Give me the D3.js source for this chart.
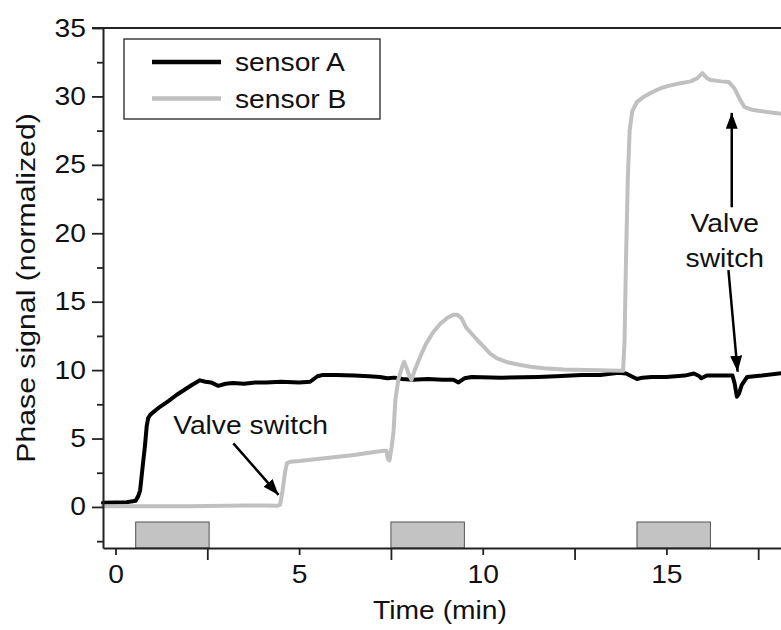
<!DOCTYPE html>
<html>
<head>
<meta charset="utf-8">
<script src="https://cdn.jsdelivr.net/npm/d3@7"></script>
<style>
  html, body { margin: 0; padding: 0; background: #fff; }
  svg { display: block; }
  text { font-family: "Liberation Sans", Arial, Helvetica, sans-serif; fill: #111; }
</style>
</head>
<body>
<svg id="chart" width="781" height="630"></svg>
<script>
// ---- data -------------------------------------------------------------
// sensor A: time (min) and normalized phase signal
const timeA = [-0.34, 0.0, 0.3, 0.55, 0.62, 0.67, 0.71, 0.75, 0.8, 0.85, 0.89, 0.95,
  1.2, 1.45, 1.67, 1.9, 2.1, 2.3, 2.45, 2.6, 2.8, 3.0, 3.2, 3.5, 3.8, 4.1, 4.5, 5.0,
  5.3, 5.5, 5.65, 6.0, 6.5, 6.9, 7.2, 7.4, 7.6, 7.8, 8.1, 8.5, 8.9, 9.2, 9.34, 9.5,
  9.7, 10.5, 11.5, 12.0, 12.7, 13.2, 13.7, 13.9, 14.05, 14.2, 14.35, 14.6, 15.0, 15.5,
  15.75, 15.9, 15.95, 16.1, 16.5, 16.8, 16.86, 16.92, 16.98, 17.05, 17.2, 17.6, 18.2];
const phaseA = [0.3, 0.32, 0.35, 0.45, 0.8, 1.2, 2.2, 3.2, 4.4, 5.9, 6.5, 6.75,
  7.3, 7.75, 8.2, 8.6, 8.95, 9.25, 9.15, 9.1, 8.85, 9.0, 9.05, 9.0, 9.1, 9.1, 9.15, 9.1,
  9.15, 9.55, 9.65, 9.65, 9.6, 9.55, 9.5, 9.4, 9.45, 9.35, 9.3, 9.35, 9.3, 9.3, 9.1, 9.4,
  9.5, 9.45, 9.5, 9.55, 9.65, 9.65, 9.8, 9.75, 9.55, 9.35, 9.45, 9.5, 9.5, 9.6,
  9.75, 9.55, 9.4, 9.6, 9.6, 9.6, 9.0, 8.05, 8.3, 8.9, 9.5, 9.6, 9.8];

// sensor B: time (min) and normalized phase signal
const timeB = [-0.34, 0.0, 2.0, 3.0, 3.5, 4.0, 4.4, 4.48, 4.55, 4.62, 4.67, 4.76,
  5.0, 5.5, 6.0, 6.5, 7.0, 7.3, 7.38, 7.42, 7.46, 7.52, 7.57, 7.62, 7.7, 7.8, 7.86,
  7.92, 8.0, 8.06, 8.15, 8.3, 8.45, 8.66, 8.85, 9.03, 9.2, 9.3, 9.42, 9.55, 9.65,
  9.85, 10.03, 10.2, 10.39, 10.7, 11.03, 11.3, 11.66, 12.2, 12.85, 13.4, 13.82,
  13.86, 13.9, 13.95, 14.0, 14.07, 14.2, 14.4, 14.57, 14.84, 15.03, 15.35, 15.66,
  15.85, 15.98, 16.1, 16.2, 16.5, 16.7, 16.85, 17.0, 17.12, 17.3, 17.5, 17.8, 18.2];
const phaseB = [0.05, 0.05, 0.05, 0.08, 0.1, 0.1, 0.08, 0.15, 1.2, 2.6, 3.2, 3.3,
  3.35, 3.5, 3.65, 3.8, 4.0, 4.1, 4.1, 3.5, 3.4, 4.4, 5.5, 7.8, 9.3, 10.2, 10.6,
  10.2, 9.6, 9.3, 10.0, 11.0, 11.9, 12.8, 13.4, 13.8, 14.05, 14.05, 13.8, 13.1, 12.8,
  12.2, 11.7, 11.2, 10.86, 10.55, 10.37, 10.25, 10.13, 10.05, 10.0, 9.98, 9.95,
  12.0, 18.0, 24.0, 27.5, 28.9, 29.6, 30.0, 30.25, 30.6, 30.75, 30.95, 31.1,
  31.35, 31.7, 31.35, 31.2, 31.1, 31.05, 30.6, 29.8, 29.24, 29.05, 28.95, 28.85, 28.7];

// valve-open intervals (min), drawn as grey blocks under the traces
const valveStart = [0.55, 7.5, 14.2];
const valveEnd = [2.55, 9.5, 16.2];

// axis ticks
const xMajorTicks = [0, 5, 10, 15];
const xMinorTicks = [2.5, 7.5, 12.5, 17.5];
const yMajorTicks = [0, 5, 10, 15, 20, 25, 30, 35];
const yMinorTicks = [-2.5, 2.5, 7.5, 12.5, 17.5, 22.5, 27.5, 32.5];

const seriesNames = ["sensor A", "sensor B"];
const seriesColors = ["#000000", "#c0c0c0"];

// ---- layout -----------------------------------------------------------
const svg = d3.select("#chart");
const plotLeft = 103, plotTop = 28, plotBottom = 548, plotRight = 850;

const x = d3.scaleLinear().domain([-0.34, 20]).range([plotLeft, plotRight]);
const y = d3.scaleLinear().domain([-3, 35]).range([plotBottom, plotTop]);

const FONT = 25;
const STRETCH = 1.13;   // text is set slightly wide

// text helper: places a horizontally stretched label at (px, py)
function label(parent, px, py, str, anchor) {
  return parent.append("text")
    .attr("transform", `translate(${px},${py}) scale(${STRETCH},1)`)
    .attr("text-anchor", anchor || "start")
    .attr("font-size", FONT)
    .text(str);
}

// ---- valve blocks -----------------------------------------------------
svg.append("g").selectAll("rect")
  .data(valveStart.map((s, i) => [s, valveEnd[i]]))
  .join("rect")
  .attr("x", d => x(d[0]))
  .attr("width", d => x(d[1]) - x(d[0]))
  .attr("y", y(-1.1))
  .attr("height", y(-3) - y(-1.1))
  .attr("fill", "#c3c3c3")
  .attr("stroke", "#555")
  .attr("stroke-width", 1);

// ---- traces -----------------------------------------------------------
const line = d3.line().x(d => x(d[0])).y(d => y(d[1])).curve(d3.curveLinear);
const traces = [
  d3.zip(timeA, phaseA),
  d3.zip(timeB, phaseB)
];
svg.append("g").selectAll("path")
  .data(traces)
  .join("path")
  .attr("d", line)
  .attr("fill", "none")
  .attr("stroke", (d, i) => seriesColors[i])
  .attr("stroke-width", 4)
  .attr("stroke-linejoin", "round")
  .attr("stroke-linecap", "round");

// ---- axes -------------------------------------------------------------
const axisColor = "#222";
const yAxisMajor = d3.axisLeft(y).tickValues(yMajorTicks).tickSize(11).tickSizeOuter(0).tickPadding(6);
const yAxisMinor = d3.axisLeft(y).tickValues(yMinorTicks).tickSize(6).tickFormat("");
const xAxisMajor = d3.axisBottom(x).tickValues(xMajorTicks).tickSize(7).tickSizeOuter(0).tickPadding(10);
const xAxisMinor = d3.axisBottom(x).tickValues(xMinorTicks).tickSize(12).tickFormat("");

function styleAxis(g) {
  g.selectAll(".domain").attr("stroke", axisColor).attr("stroke-width", 2);
  g.selectAll(".tick line").attr("stroke", axisColor).attr("stroke-width", 1.8);
  g.selectAll(".tick text")
    .attr("font-size", FONT).attr("fill", "#111")
    .attr("font-family", "'Liberation Sans', Arial, sans-serif")
    .attr("transform", function () {
      const tx = +this.getAttribute("x") || 0;
      const ty = +this.getAttribute("y") || 0;
      return `translate(${tx},${ty}) scale(${STRETCH},1)`;
    })
    .attr("x", 0).attr("y", 0);
}

svg.append("g").attr("transform", `translate(${plotLeft},0)`).call(yAxisMinor).call(styleAxis)
  .select(".domain").remove();
svg.append("g").attr("transform", `translate(${plotLeft},0)`).call(yAxisMajor).call(styleAxis);
svg.append("g").attr("transform", `translate(0,${plotBottom})`).call(xAxisMinor).call(styleAxis)
  .select(".domain").remove();
svg.append("g").attr("transform", `translate(0,${plotBottom})`).call(xAxisMajor).call(styleAxis);

// top frame line
svg.append("line")
  .attr("x1", plotLeft - 11).attr("x2", plotRight)
  .attr("y1", plotTop).attr("y2", plotTop)
  .attr("stroke", axisColor).attr("stroke-width", 2);

// axis titles
label(svg, 440, 619, "Time (min)", "middle");

svg.append("text")
  .attr("transform", `translate(35,${(plotTop + plotBottom) / 2}) rotate(-90) scale(${STRETCH + 0.08},1)`)
  .attr("text-anchor", "middle")
  .attr("font-size", FONT)
  .text("Phase signal (normalized)");

// ---- legend -----------------------------------------------------------
const legend = svg.append("g");
legend.append("rect")
  .attr("x", 124).attr("y", 39).attr("width", 256).attr("height", 80)
  .attr("fill", "#fff").attr("stroke", "#222").attr("stroke-width", 1.3);
seriesNames.forEach((name, i) => {
  const ly = 62 + i * 36.5;
  legend.append("line")
    .attr("x1", 152).attr("x2", 221).attr("y1", ly).attr("y2", ly)
    .attr("stroke", seriesColors[i]).attr("stroke-width", 4.5);
  label(legend, 235, ly + 9, name);
});

// ---- annotations ------------------------------------------------------
const defs = svg.append("defs");
defs.append("marker")
  .attr("id", "head")
  .attr("viewBox", "0 0 16 12")
  .attr("refX", 16).attr("refY", 6)
  .attr("markerWidth", 16).attr("markerHeight", 12)
  .attr("markerUnits", "userSpaceOnUse")
  .attr("orient", "auto")
  .append("path").attr("d", "M0,0 L16,6 L0,12 Z").attr("fill", "#000");

// arrows in data coordinates: [t0, v0, t1, v1]
const arrows = [
  [3.21, 4.65, 4.44, 0.88],
  [16.78, 21.9, 16.78, 28.8],
  [16.69, 17.3, 16.94, 9.88]
];
svg.append("g").selectAll("line")
  .data(arrows)
  .join("line")
  .attr("x1", d => x(d[0])).attr("y1", d => y(d[1]))
  .attr("x2", d => x(d[2])).attr("y2", d => y(d[3]))
  .attr("stroke", "#000").attr("stroke-width", 2.5)
  .attr("marker-end", "url(#head)");

label(svg, x(1.57), y(5.33), "Valve switch");
label(svg, x(16.59), y(20.09), "Valve", "middle");
label(svg, x(16.59), y(17.53), "switch", "middle");
</script>
</body>
</html>
